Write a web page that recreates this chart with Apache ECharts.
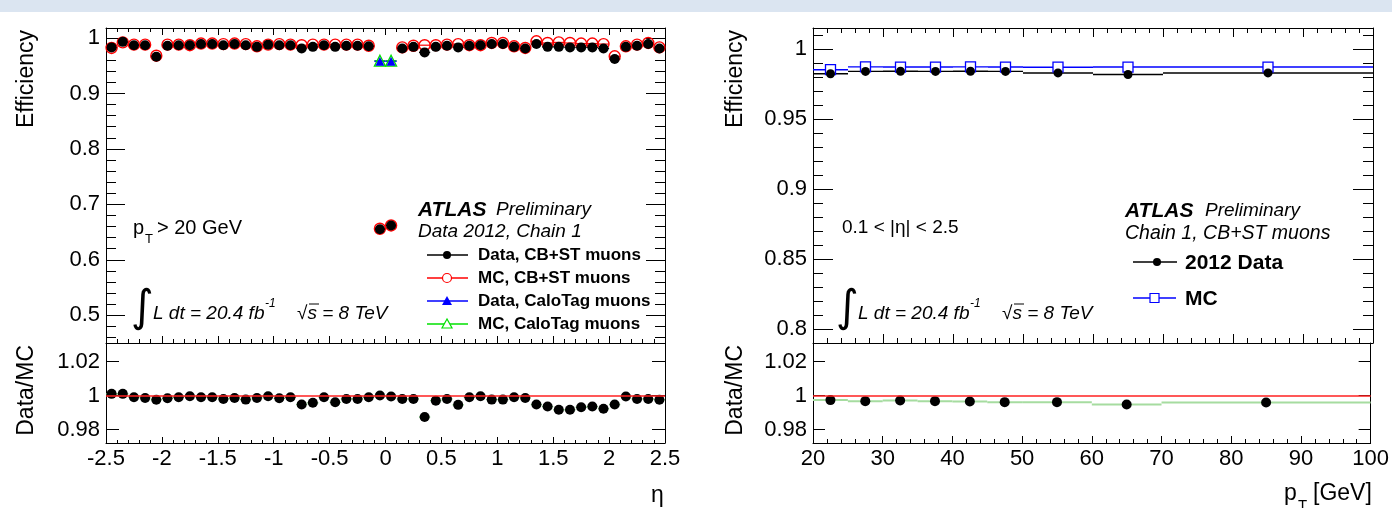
<!DOCTYPE html>
<html><head><meta charset="utf-8">
<script src="https://cdn.jsdelivr.net/npm/echarts@6/dist/echarts.min.js"></script>
<style>html,body{margin:0;padding:0;background:#fff}#c{width:1392px;height:508px}</style>
</head><body><div id="c"></div><script>
// ---------- data ----------
const etaBins = [-2.45,-2.35,-2.25,-2.15,-2.05,-1.95,-1.85,-1.75,-1.65,-1.55,-1.45,-1.35,-1.25,-1.15,-1.05,-0.95,-0.85,-0.75,-0.65,-0.55,-0.45,-0.35,-0.25,-0.15,-0.05,0.05,0.15,0.25,0.35,0.45,0.55,0.65,0.75,0.85,0.95,1.05,1.15,1.25,1.35,1.45,1.55,1.65,1.75,1.85,1.95,2.05,2.15,2.25,2.35,2.45];
const etaHalfWidth = 0.05;
const effDataCB = [0.983,0.993,0.987,0.987,0.966,0.986,0.987,0.987,0.989,0.989,0.987,0.989,0.987,0.984,0.988,0.987,0.987,0.981,0.984,0.987,0.984,0.986,0.986,0.985,0.655,0.662,0.981,0.984,0.974,0.984,0.986,0.983,0.986,0.987,0.989,0.989,0.984,0.981,0.989,0.984,0.984,0.983,0.983,0.983,0.981,0.962,0.984,0.986,0.989,0.981];
const effMCCB = [0.982,0.992,0.988,0.988,0.968,0.988,0.988,0.987,0.990,0.990,0.989,0.990,0.989,0.985,0.988,0.989,0.988,0.987,0.988,0.988,0.988,0.988,0.988,0.986,0.656,0.662,0.983,0.986,0.987,0.987,0.988,0.989,0.987,0.987,0.991,0.991,0.985,0.982,0.994,0.991,0.992,0.991,0.990,0.990,0.989,0.967,0.985,0.988,0.991,0.983];
const ratioEta = [1.001,1.001,0.999,0.9986,0.9975,0.9984,0.999,0.9996,0.999,0.999,0.998,0.9986,0.9976,0.9986,0.9996,0.9984,0.999,0.9947,0.9957,0.999,0.996,0.998,0.998,0.999,1.000,0.9994,0.998,0.998,0.9873,0.997,0.998,0.9945,0.999,0.9996,0.9976,0.9976,0.999,0.9986,0.9947,0.9935,0.9916,0.9916,0.9931,0.9935,0.9922,0.9947,0.9994,0.998,0.998,0.9975];
const etaCalo = [-0.05, 0.05];
const effDataCalo = [0.958, 0.958];
const effMCCalo = [0.959, 0.959];

const ptEdges = [20,25,30,35,40,45,50,60,70,100];
const ptCenters = [22.5,27.5,32.5,37.5,42.5,47.5,55,65,85];
const effDataPt = [0.9823,0.9840,0.9841,0.9840,0.9841,0.9840,0.9829,0.9818,0.9829];
const effMCPt = [0.9852,0.9872,0.9871,0.9871,0.9872,0.9871,0.9870,0.9871,0.9871];
const ratioPt = [0.9973,0.9967,0.9971,0.9967,0.9965,0.9961,0.9961,0.9947,0.9959];

const etaTicks = {min:-2.5, max:2.5, step:0.5};
const ptTicks = {min:20, max:100, step:10};
const effEtaRange = {min:0.45, max:1.018, step:0.1};
const effPtRange = {min:0.79, max:1.015, step:0.05};
const ratioRange = {min:0.972, max:1.031, step:0.02};

// ---------- helpers ----------
const FONT = "'Liberation Sans', Arial, Helvetica, sans-serif";
const etaSegs = (xs, vs) => xs.map((c,i)=>[c-etaHalfWidth, c+etaHalfWidth, vs[i]]);
const ptSegs = (vs) => vs.map((v,i)=>[ptEdges[i], ptEdges[i+1], v]);

function hbar(color, width){
  return function(params, api){
    const p1 = api.coord([api.value(0), api.value(2)]);
    const p2 = api.coord([api.value(1), api.value(2)]);
    return {type:'line', shape:{x1:p1[0],y1:p1[1],x2:p2[0],y2:p2[1]}, style:{stroke:color, lineWidth:width}};
  };
}
function segSeries(data, color, width, xi, yi){
  return {type:'custom', xAxisIndex:xi, yAxisIndex:yi, data, renderItem:hbar(color,width),
    encode:{x:[0,1], y:2}, silent:true, clip:true};
}
function pts(xs, vs){ return xs.map((x,i)=>[x, vs[i]]); }

function xAx(grid, pos, r, major, minor, labels){
  return {type:'value', gridIndex:grid, position:pos, min:r.min, max:r.max, interval:r.step,
    axisLine:{show:true, onZero:false, lineStyle:{color:'#000', width:1}},
    axisTick:{show:true, inside:true, length:major, lineStyle:{color:'#000', width:1}},
    minorTick:{show:true, splitNumber:5, length:minor, lineStyle:{color:'#000', width:1}},
    splitLine:{show:false}, minorSplitLine:{show:false},
    axisLabel:{show:labels, color:'#000', fontSize:22, fontFamily:FONT, margin:5}};
}
function yAx(grid, pos, r, major, minor, labels){
  return {type:'value', gridIndex:grid, position:pos, min:r.min, max:r.max,
    minInterval:r.step, maxInterval:r.step, splitNumber:Math.round((r.max-r.min)/r.step),
    axisLine:{show:true, onZero:false, lineStyle:{color:'#000', width:1}},
    axisTick:{show:true, inside:true, length:major, lineStyle:{color:'#000', width:1}},
    minorTick:{show:minor>0, splitNumber:5, length:minor, lineStyle:{color:'#000', width:1}},
    splitLine:{show:false}, minorSplitLine:{show:false},
    axisLabel:{show:labels, showMinLabel:false, showMaxLabel:false, color:'#000', fontSize:22, fontFamily:FONT, margin:6}};
}

// ---------- graphics (annotations, legends) ----------
const G = [];
function txt(x, y, s, opt){
  G.push({type:'text', x, y, style:Object.assign({text:s, fill:'#000', font:'19px '+FONT, align:'left', verticalAlign:'middle'}, opt||{})});
}
function rtxt(x, y, s, size){
  G.push({type:'text', x, y, rotation:Math.PI/2, style:{text:s, fill:'#000', font:size+'px '+FONT, align:'right', verticalAlign:'middle'}});
}
function gline(x1,y1,x2,y2,c,w){ G.push({type:'line', shape:{x1,y1,x2,y2}, style:{stroke:c, lineWidth:w||1.2}}); }
G.push({type:'rect', shape:{x:0,y:0,width:1392,height:12}, style:{fill:'#dbe5f1'}});

// axis titles
rtxt(27, 30, 'Efficiency', 23);
rtxt(27, 345, 'Data/MC', 23);
rtxt(736, 30, 'Efficiency', 23);
rtxt(736, 345, 'Data/MC', 23);
txt(651, 496, 'η', {font:'23px '+FONT});
txt(1284, 494, 'p', {font:'23px '+FONT});
txt(1298, 506, 'T', {font:'15px '+FONT});
txt(1313, 494, '[GeV]', {font:'23px '+FONT});

// left annotations
txt(133, 228, 'p', {font:'20px '+FONT});
txt(145, 239, 'T', {font:'13px '+FONT});
txt(157, 228, '> 20 GeV', {font:'20px '+FONT});
function lumi(x0){
  txt(x0-2, 310, '∫', {font:'44px DejaVu Sans'});
  txt(x0+20, 314, 'L dt = 20.4 fb', {font:'italic 19px '+FONT});
  txt(x0+132, 304, '-1', {font:'italic 12px '+FONT});
  txt(x0+164, 314, '√s = 8 TeV', {font:'italic 19px '+FONT});
  gline(x0+176, 304, x0+186, 304, '#000', 1);
}
lumi(133);
txt(418, 210, 'ATLAS', {font:'italic bold 21px '+FONT});
txt(496, 210, 'Preliminary', {font:'italic 19px '+FONT});
txt(418, 232, 'Data 2012, Chain 1', {font:'italic 19px '+FONT});
const legRows = [
  {y:255, c:'#000', t:'Data, CB+ST muons', m:'dot'},
  {y:278, c:'#ff0000', t:'MC, CB+ST muons', m:'ring'},
  {y:301, c:'#0000ff', t:'Data, CaloTag muons', m:'tri'},
  {y:324, c:'#00e000', t:'MC, CaloTag muons', m:'otri'}
];
legRows.forEach(r=>{
  gline(427, r.y, 468, r.y, r.c, 1.4);
  if (r.m==='dot') G.push({type:'circle', shape:{cx:447, cy:r.y, r:4}, style:{fill:r.c}});
  if (r.m==='ring') G.push({type:'circle', shape:{cx:447, cy:r.y, r:4.5}, style:{fill:'#fff', stroke:r.c, lineWidth:1.2}});
  if (r.m==='tri') G.push({type:'polygon', shape:{points:[[447,r.y-5],[442,r.y+4],[452,r.y+4]]}, style:{fill:r.c}});
  if (r.m==='otri') G.push({type:'polygon', shape:{points:[[447,r.y-5],[442,r.y+4],[452,r.y+4]]}, style:{fill:'#fff', stroke:r.c, lineWidth:1.2}});
  txt(478, r.y, r.t, {font:'bold 17px '+FONT});
});

// right annotations
txt(842, 228, '0.1 < |η| < 2.5', {font:'19px '+FONT});
lumi(838);
txt(1125, 211, 'ATLAS', {font:'italic bold 21px '+FONT});
txt(1205, 211, 'Preliminary', {font:'italic 19px '+FONT});
txt(1125, 234, 'Chain 1, CB+ST muons', {font:'italic 19.5px '+FONT});
gline(1133, 262, 1177, 262, '#000', 1.4);
G.push({type:'circle', shape:{cx:1157, cy:262, r:4}, style:{fill:'#000'}});
txt(1185, 263, '2012 Data', {font:'bold 21px '+FONT});
gline(1133, 298, 1176, 298, '#0000ff', 1.4);
G.push({type:'rect', shape:{x:1150, y:293.5, width:9, height:9}, style:{fill:'#fff', stroke:'#0000ff', lineWidth:1.2}});
txt(1185, 299, 'MC', {font:'bold 21px '+FONT});

// ---------- chart ----------
const chart = echarts.init(document.getElementById('c'), null, {renderer:'canvas'});
const ratioLine = {silent:true, symbol:['none','none'], label:{show:false}, lineStyle:{color:'#ff2020', width:1.5, type:'solid', opacity:1}, data:[{yAxis:1}]};
const solid = c => ({color:c, opacity:1});
chart.setOption({
  animation:false,
  backgroundColor:'#fff',
  grid:[
    {left:106, top:28, width:559, height:315},
    {left:106, top:343, width:559, height:100},
    {left:813, top:28, width:560, height:315},
    {left:813, top:343, width:560, height:100}
  ],
  xAxis:[
    xAx(0,'bottom',etaTicks,7,4,false),
    xAx(0,'top',etaTicks,7,4,false),
    xAx(1,'bottom',etaTicks,6,3,true),
    xAx(2,'bottom',ptTicks,9,5,false),
    xAx(2,'top',ptTicks,9,5,false),
    xAx(3,'bottom',ptTicks,7,4,true)
  ],
  yAxis:[
    yAx(0,'left',effEtaRange,19,10,true),
    yAx(0,'right',effEtaRange,19,10,false),
    yAx(1,'left',ratioRange,13,0,true),
    yAx(1,'right',ratioRange,13,0,false),
    yAx(2,'left',effPtRange,20,10,true),
    yAx(2,'right',effPtRange,20,10,false),
    yAx(3,'left',ratioRange,12,0,true),
    yAx(3,'right',ratioRange,12,0,false)
  ],
  series:[
    // left efficiency
    segSeries(etaSegs(etaBins, effMCCB), '#ff0000', 1.2, 0, 0),
    segSeries(etaSegs(etaBins, effDataCB), '#000', 1.4, 0, 0),
    {type:'scatter', xAxisIndex:0, yAxisIndex:0, data:pts(etaBins, effMCCB), symbol:'circle', symbolSize:11,
      itemStyle:{color:'rgba(255,255,255,0)', borderColor:'#ff0000', borderWidth:1.4, opacity:1}, silent:true},
    {type:'scatter', xAxisIndex:0, yAxisIndex:0, data:pts(etaBins, effDataCB), symbol:'circle', symbolSize:10,
      itemStyle:solid('#000'), silent:true},
    segSeries(etaSegs(etaCalo, effMCCalo), '#00e000', 1.2, 0, 0),
    segSeries(etaSegs(etaCalo, effDataCalo), '#0000ff', 1.2, 0, 0),
    {type:'scatter', xAxisIndex:0, yAxisIndex:0, data:pts(etaCalo, effMCCalo), symbol:'triangle', symbolSize:11,
      itemStyle:{color:'rgba(255,255,255,0)', borderColor:'#00e000', borderWidth:1.3, opacity:1}, silent:true},
    {type:'scatter', xAxisIndex:0, yAxisIndex:0, data:pts(etaCalo, effDataCalo), symbol:'triangle', symbolSize:9,
      itemStyle:solid('#0000ff'), silent:true},
    // left ratio
    segSeries(etaSegs(etaBins, ratioEta), '#7fcf7f', 1.4, 2, 2),
    {type:'scatter', xAxisIndex:2, yAxisIndex:2, data:pts(etaBins, ratioEta), symbol:'circle', symbolSize:10,
      itemStyle:solid('#000'), silent:true, markLine:ratioLine, z:3},
    // right efficiency
    segSeries(ptSegs(effMCPt), '#0000ff', 1.4, 3, 4),
    segSeries(ptSegs(effDataPt), '#000', 1.4, 3, 4),
    {type:'scatter', xAxisIndex:3, yAxisIndex:4, data:pts(ptCenters, effMCPt), symbol:'rect', symbolSize:10,
      itemStyle:{color:'#fff', borderColor:'#0000ff', borderWidth:1.3, opacity:1}, silent:true},
    {type:'scatter', xAxisIndex:3, yAxisIndex:4, data:pts(ptCenters, effDataPt), symbol:'circle', symbolSize:9,
      itemStyle:solid('#000'), silent:true},
    // right ratio
    segSeries(ptSegs(ratioPt), '#a6dca0', 2, 5, 6),
    {type:'scatter', xAxisIndex:5, yAxisIndex:6, data:pts(ptCenters, ratioPt), symbol:'circle', symbolSize:10,
      itemStyle:solid('#000'), silent:true, markLine:ratioLine, z:3}
  ],
  graphic:G
});
</script></body></html>
